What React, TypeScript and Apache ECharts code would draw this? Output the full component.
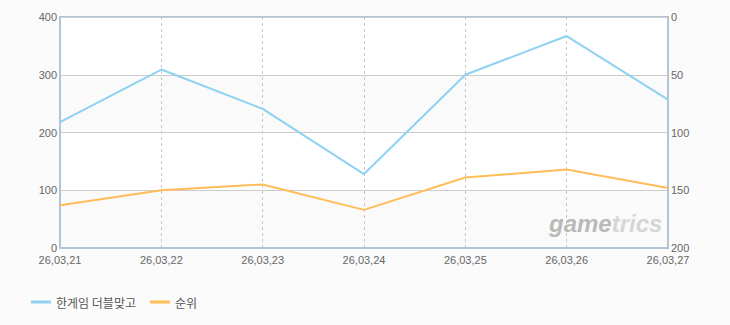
import React, { useEffect, useRef } from "react";
import * as echarts from "echarts";

const categories = ["26,03,21", "26,03,22", "26,03,23", "26,03,24", "26,03,25", "26,03,26", "26,03,27"];
const seriesNames = ["한게임 더블맞고", "순위"];
const playerValues = [218, 309, 241, 128, 300, 367, 257];
const rankValues = [163, 150, 145, 167, 139, 132, 148];
const leftTicks = [0, 100, 200, 300, 400];
const rightTicks = [0, 50, 100, 150, 200];

export default function App() {
  const ref = useRef<HTMLDivElement>(null);
  useEffect(() => {
    if (!ref.current) return;
    const chart = echarts.init(ref.current, null, { renderer: "svg" });
    const labelStyle = { color: "#666666", fontSize: 11, fontFamily: "Liberation Sans, Arial, sans-serif" };
    chart.setOption({
      animation: false,
      backgroundColor: "#fbfbfb",
      grid: {
        left: 60,
        right: 62,
        top: 17,
        bottom: 77,
        show: true,
        backgroundColor: "#ffffff",
        borderColor: "#b3c4d6",
        borderWidth: 2,
      },
      legend: {
        left: 26,
        top: 291,
        itemWidth: 20,
        itemHeight: 3,
        itemGap: 14,
        icon: "rect",
        textStyle: { color: "#555", fontSize: 12, fontFamily: "Noto Sans CJK KR, sans-serif" },
        data: seriesNames,
      },
      xAxis: {
        type: "category",
        data: categories,
        boundaryGap: false,
        axisLine: { show: true, lineStyle: { color: "#b3c4d6", width: 2 } },
        axisTick: { show: false },
        axisLabel: { ...labelStyle, margin: 6, showMinLabel: true, showMaxLabel: true, interval: 0 },
        splitLine: { show: true, lineStyle: { color: "#c8c8c8", type: [3, 3], width: 1 } },
      },
      yAxis: [
        {
          type: "value",
          min: leftTicks[0],
          max: leftTicks[leftTicks.length - 1],
          interval: 100,
          axisLine: { show: true, lineStyle: { color: "#b3c4d6", width: 2 } },
          axisTick: { show: false },
          axisLabel: { ...labelStyle, margin: 3 },
          splitLine: { show: true, lineStyle: { color: "#cccccc", width: 1 } },
          splitArea: { show: true, areaStyle: { color: ["#fafafa", "#ffffff"] } },
        },
        {
          type: "value",
          inverse: true,
          min: rightTicks[0],
          max: rightTicks[rightTicks.length - 1],
          interval: 50,
          position: "right",
          axisLine: { show: true, lineStyle: { color: "#b3c4d6", width: 2 } },
          axisTick: { show: false },
          axisLabel: { ...labelStyle, margin: 3 },
          splitLine: { show: false },
        },
      ],
      graphic: [
        {
          type: "text",
          left: 549,
          top: 211,
          z: 1,
          style: {
            text: "{a|game}{b|trics}",
            rich: {
              a: { fill: "#b9b9b9", font: "italic bold 24px Liberation Sans, Arial, sans-serif" },
              b: { fill: "#d6d6d6", font: "italic bold 24px Liberation Sans, Arial, sans-serif" },
            },
            font: "italic bold 24px Liberation Sans, Arial, sans-serif",
          },
        },
      ],
      series: [
        {
          name: seriesNames[0],
          type: "line",
          data: playerValues,
          yAxisIndex: 0,
          symbol: "none",
          z: 5,
          itemStyle: { color: "#8ed2f2" },
          lineStyle: { color: "#8ed2f2", width: 2 },
        },
        {
          name: seriesNames[1],
          type: "line",
          data: rankValues,
          yAxisIndex: 1,
          symbol: "none",
          z: 5,
          itemStyle: { color: "#ffbd59" },
          lineStyle: { color: "#ffbd59", width: 2 },
        },
      ],
    });
    return () => chart.dispose();
  }, []);
  return (
    <div
      ref={ref}
      style={{ position: "absolute", left: 0, top: 0, width: 730, height: 325 }}
    />
  );
}
